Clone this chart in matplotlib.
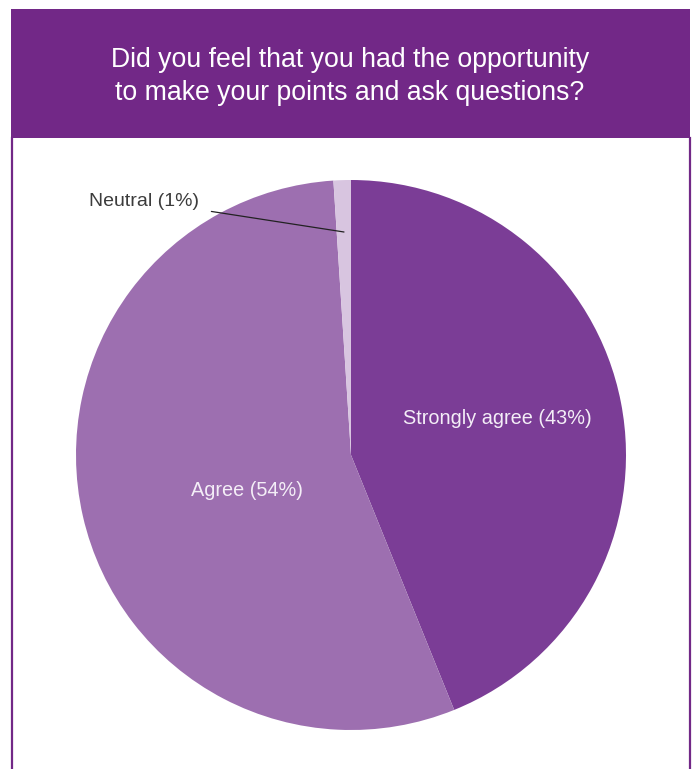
"""
Survey pie chart - opportunity to make points and ask questions
"""
import matplotlib
matplotlib.use('Agg')
import matplotlib.pyplot as plt
from matplotlib.patches import Rectangle
from matplotlib.lines import Line2D

# 問卷結果
categories = ["Strongly agree", "Agree", "Neutral"]
shares = [43, 54, 1]
slice_colors = ['#7B3D96', '#9D6FB0', '#D8C5E0']
title_lines = ["Did you feel that you had the opportunity",
               "to make your points and ask questions?"]

HEADER = '#722887'
W, H = 696, 769

plt.rcParams['font.family'] = ['Liberation Sans', 'DejaVu Sans']

fig = plt.figure(figsize=(W / 100, H / 100), dpi=100)
fig.patch.set_facecolor('white')


def px(x, y):
    """pixel (from top-left) -> figure fraction"""
    return x / W, 1 - y / H


# 標題色塊與左右邊框
x0, y0 = px(11, 138)
x1, y1 = px(690, 9)
fig.patches.append(Rectangle((x0, y0), x1 - x0, y1 - y0, transform=fig.transFigure,
                             facecolor=HEADER, edgecolor='none', zorder=0))
for xb in (11.5, 689.5):
    fig.lines.append(Line2D([xb / W, xb / W], [0, y0], transform=fig.transFigure,
                            color=HEADER, linewidth=1.6))

fig.text(*px(350, 60), title_lines[0], color='white', fontsize=19.2,
         ha='center', va='center')
fig.text(*px(350, 93), title_lines[1], color='white', fontsize=19.2,
         ha='center', va='center')

# 圓餅圖
cx, cy, r = 351, 455, 275
ax = fig.add_axes([(cx - r) / W, (H - cy - r) / H, 2 * r / W, 2 * r / H])
ax.pie(shares, colors=slice_colors, startangle=90, counterclock=False,
       radius=1, wedgeprops=dict(linewidth=0))
ax.set_xlim(-1, 1)
ax.set_ylim(-1, 1)
ax.set_aspect('equal')
ax.axis('off')


def dc(x, y):
    """pixel -> pie data coords"""
    return (x - cx) / r, (cy - y) / r


label_font = dict(fontsize=14.3, color='#F4EEF7', ha='center', va='center')
ax.text(*dc(497, 419), f"{categories[0]} ({shares[0]}%)", **label_font)
ax.text(*dc(247, 490), f"{categories[1]} ({shares[1]}%)", **label_font)

# Neutral 標籤與引線
ax.annotate(f"{categories[2]} ({shares[2]}%)", xy=dc(344, 232), xytext=dc(199, 201),
            ha='right', va='center', fontsize=14, color='#3C3C3C',
            arrowprops=dict(arrowstyle='-', color='#222222', linewidth=0.9,
                            shrinkA=7, shrinkB=0),
            annotation_clip=False)

plt.savefig('out.png', dpi=100)
plt.close()
